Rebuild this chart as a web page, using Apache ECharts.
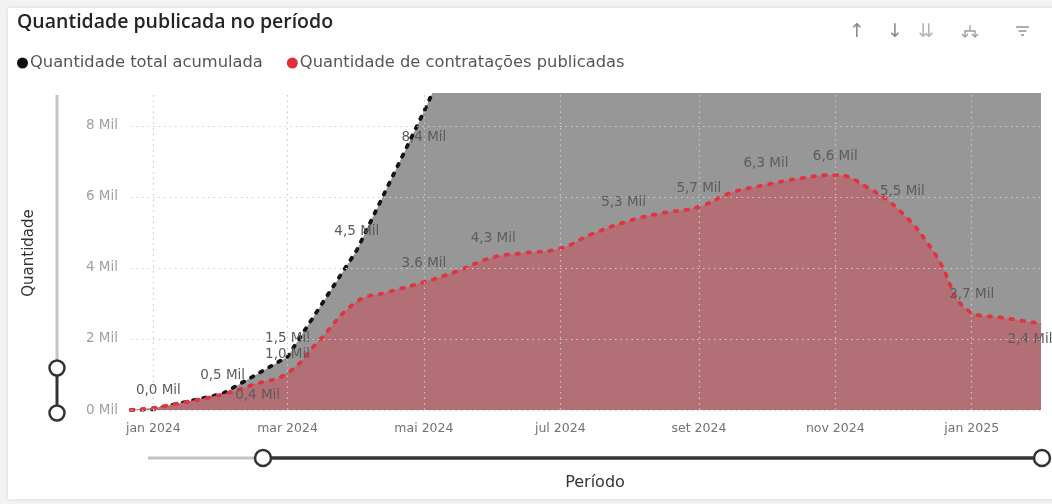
<!DOCTYPE html>
<html><head><meta charset="utf-8">
<script src="https://cdn.jsdelivr.net/npm/echarts@6/dist/echarts.min.js"></script>
<style>html,body{margin:0;padding:0;background:#f2f2f2}#c{width:1052px;height:504px}</style>
</head><body><div id="c"></div>
<script>
// ---- data ----
const publishedDates = ['2023-12-22','2024-01-01','2024-01-15','2024-02-01','2024-02-15','2024-03-01','2024-03-15','2024-04-01','2024-04-15','2024-05-01','2024-05-15','2024-06-01','2024-06-15','2024-07-01','2024-07-15','2024-08-01','2024-08-15','2024-09-01','2024-09-15','2024-10-01','2024-10-15','2024-11-01','2024-11-15','2024-12-01','2024-12-15','2025-01-01','2025-01-15','2025-02-01'];
const publishedValues = [0,60,220,440,720,1040,1950,3050,3320,3600,3890,4300,4420,4550,4950,5330,5540,5720,6110,6340,6510,6620,6280,5540,4450,2740,2600,2430];
const cumulativeDates = ['2023-12-22','2024-01-01','2024-02-01','2024-03-01','2024-04-01','2024-05-01','2024-06-01','2024-07-01','2024-08-01','2024-09-01','2024-10-01','2024-11-01','2024-12-01','2025-01-01','2025-02-01'];
const cumulativeValues = [0,20,460,1500,4500,8400,12700,17200,22500,28200,34500,41100,46600,49300,51700];
const monthTicks = ['2024-01-01','2024-03-01','2024-05-01','2024-07-01','2024-09-01','2024-11-01','2025-01-01'];
const monthTickLabels = ['jan 2024','mar 2024','mai 2024','jul 2024','set 2024','nov 2024','jan 2025'];
const seriesNames = ['Quantidade total acumulada','Quantidade de contratações publicadas'];
const labeledCumulative = ['2024-01-01','2024-02-01','2024-03-01','2024-04-01','2024-05-01'];
const labeledPublished = ['2024-02-01','2024-03-01','2024-05-01','2024-06-01','2024-08-01','2024-09-01','2024-10-01','2024-11-01','2024-12-01','2025-01-01','2025-02-01'];
const xStart = '2023-12-22', xEnd = '2025-02-01';
const yMax = 8870, yStep = 2000;

// ---- label placement (style only) ----
const placement = {
  c: {'2024-01-01':{offset:[5,0]}, '2024-05-01':{position:'bottom',distance:18}},
  p: {'2024-02-01':{position:'right',distance:12,offset:[0,1]}, '2024-08-01':{offset:[-6,0]}, '2024-10-01':{distance:14}, '2024-12-01':{distance:14}, '2025-02-01':{position:'bottom',distance:8,offset:[-11,0]}}
};

const ts = s => { const [y,m,d] = s.split('-').map(Number); return new Date(y, m-1, d).getTime(); };
const fmt = v => (v/1000).toFixed(1).replace('.', ',') + ' Mil';
const FW = 'DejaVu Sans';
const labelBase = {show:true, position:'top', distance:11, color:'#5c5c5c', fontSize:13.5, fontFamily:FW, formatter: p => fmt(p.value[1])};

function build(dates, vals, labeled, key){
  return dates.map((d,i)=>{
    const item = {value:[ts(d), vals[i]]};
    if (labeled.includes(d)) item.label = Object.assign({}, labelBase, placement[key][d] || {});
    return item;
  });
}

const chart = echarts.init(document.getElementById('c'), null, {renderer:'canvas'});
chart.setOption({
  backgroundColor:'#f2f2f2',
  animation:false,
  legend:{left:17, top:55, icon:'circle', itemWidth:11, itemHeight:11, itemGap:24, padding:0,
    textStyle:{fontSize:16.3, color:'#555', fontFamily:FW, padding:[0,0,0,-3]}, data: seriesNames},
  grid:{left:131, right:11, top:95, bottom:94},
  xAxis:{type:'time', min:ts(xStart), max:ts(xEnd), axisLabel:{show:false}, axisTick:{show:false}, axisLine:{show:false}, splitLine:{show:false}},
  yAxis:{type:'value', min:0, max:yMax, interval:yStep, z:5,
    axisLabel:{color:'#a0a0a0', fontSize:13.5, fontFamily:FW, margin:13, showMaxLabel:false, formatter: v => (v % yStep === 0) ? (v/1000) + ' Mil' : ''},
    axisLine:{show:false}, axisTick:{show:false},
    splitLine:{show:true, showMaxLine:false, lineStyle:{color:'#cfcfcf', type:[1.5,4], width:1.2}}},
  series:[
    {name:seriesNames[0], type:'line', data:build(cumulativeDates, cumulativeValues, labeledCumulative, 'c'),
     smooth:false, showSymbol:true, showAllSymbol:true, symbol:'circle', symbolSize:1, color:'#111',
     lineStyle:{color:'#141414', width:3.8, type:[2.5,8], cap:'round'},
     areaStyle:{color:'#979797', opacity:1}, z:2},
    {name:seriesNames[1], type:'line', data:build(publishedDates, publishedValues, labeledPublished, 'p'),
     smooth:0.45, showSymbol:true, showAllSymbol:true, symbol:'circle', symbolSize:1, color:'#e0303a',
     lineStyle:{color:'#e23440', width:3.8, type:[2.5,8.5], cap:'round'},
     areaStyle:{color:'#b26f75', opacity:1}, z:3,
     markLine:{silent:true, symbol:'none', z:6,
       lineStyle:{color:'#c9c9c9', type:[1.5,4], width:1.2},
       label:{show:true, position:'start', distance:12, color:'#727272', fontSize:12.5, fontFamily:FW, formatter: p => p.name},
       data: monthTicks.map((d,i)=>({name:monthTickLabels[i], xAxis:ts(d)}))}}
  ],
  graphic:[
    {type:'rect', z:-10, shape:{x:8,y:8,width:1060,height:491}, style:{fill:'#fff', shadowBlur:4, shadowColor:'rgba(0,0,0,0.12)'}},
    {type:'text', x:17, y:22, style:{text:'Quantidade publicada no período', font:'600 19.5px "Open Sans"', fill:'#252423', textVerticalAlign:'middle'}},
    {type:'text', x:857, y:32, style:{text:'↑', font:'19px "DejaVu Sans"', fill:'#8a8a8a', textAlign:'center', textVerticalAlign:'middle'}},
    {type:'text', x:895, y:32, style:{text:'↓', font:'19px "DejaVu Sans"', fill:'#8a8a8a', textAlign:'center', textVerticalAlign:'middle'}},
    {type:'text', x:926, y:32, style:{text:'⇊', font:'19px "DejaVu Sans"', fill:'#b4b4b4', textAlign:'center', textVerticalAlign:'middle'}},
    {type:'polyline', shape:{points:[[970,25],[970,30]]}, style:{stroke:'#9a9a9a', lineWidth:1.3, fill:null}},
    {type:'polyline', shape:{points:[[965,37],[965,31],[975,31],[975,37]]}, style:{stroke:'#9a9a9a', lineWidth:1.3, fill:null}},
    {type:'polyline', shape:{points:[[962,34],[965,37],[968,34]]}, style:{stroke:'#9a9a9a', lineWidth:1.3, fill:null}},
    {type:'polyline', shape:{points:[[972,34],[975,37],[978,34]]}, style:{stroke:'#9a9a9a', lineWidth:1.3, fill:null}},
    {type:'line', shape:{x1:1016,y1:27,x2:1029,y2:27}, style:{stroke:'#8a8a8a', lineWidth:1.4}},
    {type:'line', shape:{x1:1018.5,y1:31,x2:1026.5,y2:31}, style:{stroke:'#8a8a8a', lineWidth:1.4}},
    {type:'line', shape:{x1:1021,y1:35,x2:1024,y2:35}, style:{stroke:'#8a8a8a', lineWidth:1.4}},
    {type:'text', x:29, y:253, rotation:Math.PI/2, style:{text:'Quantidade', font:'15px "DejaVu Sans"', fill:'#333', textAlign:'center', textVerticalAlign:'middle'}},
    {type:'line', shape:{x1:57,y1:95,x2:57,y2:368}, style:{stroke:'#c4c4c4', lineWidth:3}},
    {type:'line', shape:{x1:57,y1:368,x2:57,y2:413}, style:{stroke:'#333', lineWidth:3}},
    {type:'circle', shape:{cx:57,cy:368,r:7.5}, style:{fill:'#fff', stroke:'#333', lineWidth:2.5}},
    {type:'circle', shape:{cx:57,cy:413,r:7.5}, style:{fill:'#fff', stroke:'#333', lineWidth:2.5}},
    {type:'line', shape:{x1:148,y1:458,x2:262,y2:458}, style:{stroke:'#c4c4c4', lineWidth:3}},
    {type:'line', shape:{x1:262,y1:458,x2:1041,y2:458}, style:{stroke:'#333', lineWidth:3.5}},
    {type:'circle', shape:{cx:263,cy:458,r:8}, style:{fill:'#fff', stroke:'#333', lineWidth:2.5}},
    {type:'circle', shape:{cx:1042,cy:458,r:8}, style:{fill:'#fff', stroke:'#333', lineWidth:2.5}},
    {type:'text', x:595, y:483, style:{text:'Período', font:'16px "DejaVu Sans"', fill:'#333', textAlign:'center', textVerticalAlign:'middle'}}
  ]
});
</script></body></html>
